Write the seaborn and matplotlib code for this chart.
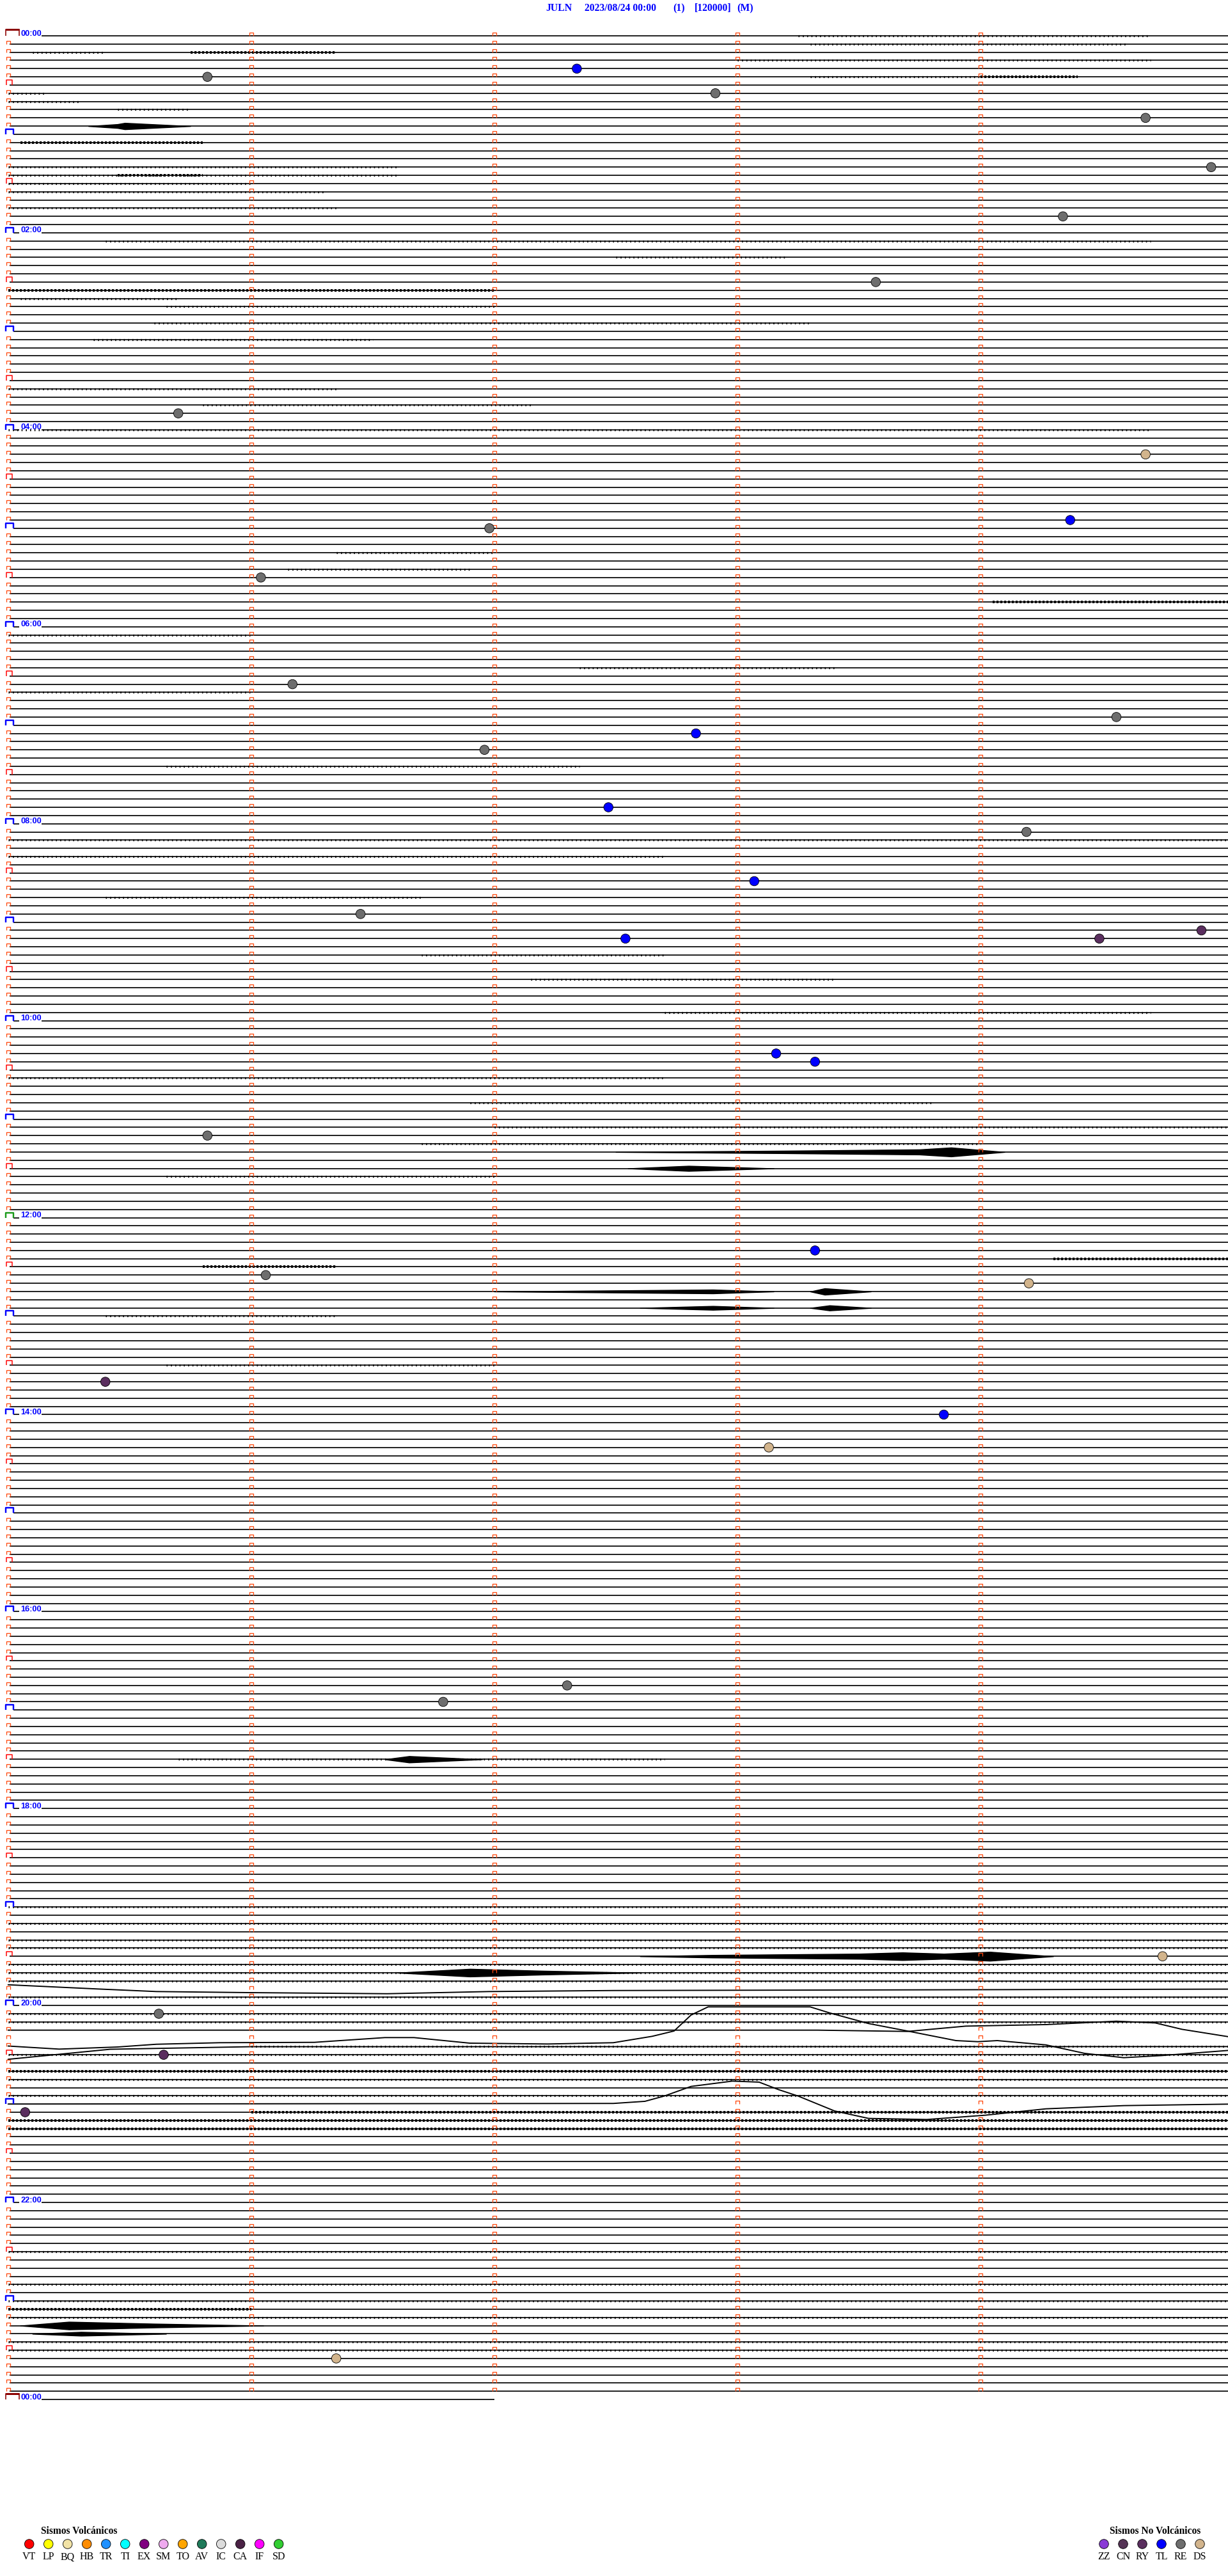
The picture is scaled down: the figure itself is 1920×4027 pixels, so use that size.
import numpy as np
import pandas as pd
import matplotlib
matplotlib.use("Agg")
import matplotlib.pyplot as plt
import seaborn as sns
from matplotlib.collections import LineCollection

# --- drum layout (5 min per row, 12 rows per hour) ---
W, H, DPI = 1920, 4027, 100
PX_MIN = 380.0      # px per minute along a row
PX_ROW = 12.83      # px between rows
X0_PX, Y0_PX = 12.7, 56.0
N_ROWS = 289
LAST_ROW_END = 2.0  # minutes drawn on the final (next day 00:00) row

header_bits = ["JULN", "2023/08/24 00:00", "(1)", "[120000]", "(M)"]
header_x = [853, 914, 1052, 1086, 1152]

hour_label_rows = [0, 24, 48, 72, 96, 120, 144, 168, 192, 216, 240, 264, 288]
hour_labels = ["00:00", "02:00", "04:00", "06:00", "08:00", "10:00", "12:00",
               "14:00", "16:00", "18:00", "20:00", "22:00", "00:00"]

# events: row, minute in row, type
ev_row = [5, 4, 7, 10, 16, 22, 30, 46, 51, 59, 60, 66, 79, 83, 85, 87, 94, 97,
          103, 107, 110, 110, 109, 124, 125, 134, 148, 151, 152, 164, 168, 172,
          201, 203, 234, 241, 246, 253, 283]
ev_min = [0.82, 2.34, 2.91, 4.68, 4.95, 4.34, 3.57, 0.70, 4.68, 4.37, 1.98, 1.04,
          1.17, 4.56, 2.83, 1.96, 2.47, 4.19, 3.07, 1.45, 2.54, 4.49, 4.91, 3.16,
          3.32, 0.82, 3.32, 1.06, 4.20, 0.40, 3.85, 3.13, 2.30, 1.79, 4.75, 0.62,
          0.64, 0.07, 1.35]
ev_type = ["RE", "TL", "RE", "RE", "RE", "RE", "RE", "RE", "DS", "TL", "RE", "RE",
           "RE", "RE", "TL", "RE", "TL", "RE", "TL", "RE", "TL", "RY", "RY", "TL",
           "TL", "RE", "TL", "RE", "DS", "RY", "TL", "DS", "RE", "RE", "DS", "RE",
           "RY", "RY", "DS"]

# legend
volc_codes = ["VT", "LP", "BQ", "HB", "TR", "TI", "EX", "SM", "TO", "AV", "IC", "CA", "IF", "SD"]
volc_colors = ["#ff0000", "#ffff00", "#f2e3a6", "#ff8c00", "#1e90ff", "#00ffff", "#800080",
               "#eeaaee", "#ffa500", "#1f7a5a", "#dcdcdc", "#4a2245", "#ff00ff", "#32cd32"]
nonv_codes = ["ZZ", "CN", "RY", "TL", "RE", "DS"]
nonv_colors = ["#8a3ad6", "#553355", "#5a2e5e", "#0000ff", "#6e6e6e", "#d2b48c"]

# noisy stretches: row, start min, end min, weight (1 light, 2 dense)
noise_row = [0, 1, 2, 2, 3, 5, 5, 7, 8, 9, 13, 16, 17, 17, 18, 19, 21, 25, 27, 31, 32,
             33, 35, 37, 43, 45, 48, 63, 65, 69, 73, 77, 80, 89, 98, 100, 105, 112,
             115, 119, 127, 130, 133, 135, 139, 149, 150, 156, 162, 210, 228, 230,
             232, 233, 235, 236, 237, 239, 241, 242, 245, 246, 248, 249, 251, 253,
             254, 255, 270, 274, 276, 277, 278, 281, 282]
noise_x0 = [3.25, 3.3, 0.1, 0.75, 3.0, 3.3, 4.0, 0.0, 0.0, 0.45, 0.05, 0.0, 0.0, 0.45, 0.0,
            0.0, 0.0, 0.4, 2.5, 0.0, 0.05, 0.65, 0.6, 0.35, 0.0, 0.8, 0.0, 1.35, 1.15, 4.05,
            0.0, 2.35, 0.0, 0.65, 0.0, 0.0, 0.4, 1.7, 2.15, 2.7, 0.0, 1.9, 2.0, 1.7, 0.65,
            4.3, 0.8, 0.4, 0.65, 0.7, 0.0, 0.0, 0.0, 0.0, 0.0, 0.0, 0.0, 0.0, 0.0, 0.0, 1.0,
            0.0, 0.0, 0.0, 0.0, 1.0, 0.0, 0.0, 0.0, 0.0, 0.0, 0.0, 0.0, 0.0, 0.0]
noise_x1 = [4.7, 4.6, 0.4, 1.35, 4.7, 4.0, 4.4, 0.15, 0.3, 0.75, 0.8, 1.6, 1.6, 0.8, 1.0,
            1.3, 1.35, 4.7, 3.2, 2.0, 0.7, 2.0, 3.3, 1.5, 1.35, 2.15, 4.7, 2.0, 1.9, 5.05,
            1.0, 3.4, 1.0, 2.35, 5.05, 2.7, 1.7, 2.7, 3.4, 4.7, 2.7, 3.8, 5.05, 4.0, 2.0,
            5.05, 1.35, 1.35, 2.0, 2.7, 5.05, 5.05, 5.05, 5.05, 5.05, 5.05, 5.05, 5.05,
            5.05, 5.05, 5.05, 5.05, 5.05, 5.05, 5.05, 5.05, 5.05, 5.05, 5.05, 5.05, 5.05,
            1.0, 5.05, 5.05, 5.05]
noise_w = [1, 1, 1, 2, 1, 1, 2, 1, 1, 1, 2, 1, 1, 2, 1, 1, 1, 1, 1, 2, 1, 1, 1, 1, 1, 1,
           1, 1, 1, 2, 1, 1, 1, 1, 1, 1, 1, 1, 1, 1, 1, 1, 1, 1, 1, 2, 2, 1, 1, 1, 1, 1, 1,
           1, 1, 1, 1, 1, 1, 1, 1, 1, 2, 1, 1, 2, 2, 2, 1, 1, 1, 2, 1, 1, 1]

# bursts: row, knot minutes, half-amplitude in px
burst_row = [11, 136, 138, 153, 153, 155, 155, 210, 234, 236, 279, 280]
burst_x = [[0.33, 0.45, 0.48, 0.75],
           [2.5, 3.2, 3.75, 3.88, 4.1],
           [2.55, 2.8, 3.15],
           [2.0, 2.9, 3.15],
           [3.3, 3.36, 3.55],
           [2.6, 2.9, 3.15],
           [3.3, 3.38, 3.55],
           [1.55, 1.65, 1.95],
           [2.6, 2.9, 3.5, 3.68, 3.85, 4.04, 4.3],
           [1.6, 1.9, 2.2, 2.6],
           [0.05, 0.25, 0.6, 1.05],
           [0.1, 0.3, 0.65]]
burst_amp = [[0, 3, 5, 0], [0, 2, 4, 7, 0], [0, 4, 0], [0, 3, 0], [0, 5, 0], [0, 3, 0],
             [0, 4, 0], [0, 5, 0], [0, 2, 4, 6, 4, 7, 0], [0, 6, 3, 0], [0, 6, 3, 0],
             [0, 3, 0]]

# long-period drift on a few traces: row, knot minutes, offset px (down +)
drift_row = [238, 243, 244, 245, 252]
drift_x = [[0.0, 0.37, 0.61, 1.0, 1.56, 1.98, 2.49, 5.05],
           [0.0, 3.33, 3.70, 3.94, 4.27, 4.56, 4.72, 4.83, 5.05],
           [0.0, 0.21, 0.45, 0.61, 0.87, 1.26, 1.55, 1.67, 1.90, 2.22, 2.49, 2.65, 2.74,
            2.81, 2.88, 3.30, 3.38, 3.54, 3.70, 3.90, 3.99, 4.07, 4.27, 4.43, 4.59, 4.75,
            5.05],
           [0.0, 0.42, 1.0, 5.05],
           [0.0, 2.49, 2.62, 2.70, 2.81, 2.98, 3.09, 3.17, 3.25, 3.40, 3.54, 3.78, 4.02,
            4.27, 4.59, 5.05]]
drift_off = [[-6.8, -0.2, 3.8, 5.5, 7.2, 3.8, 2.2, 0.0],
             [0.0, 0.0, 2.0, -6.3, -8.7, -14.0, -11.3, -1.3, 12.0],
             [12.0, 16.8, 13.5, 9.2, 6.8, 6.2, -1.2, -1.2, 7.5, 8.8, 6.8, -3.2, -11.5,
              -36.5, -49.2, -49.2, -39.8, -23.2, -11.5, 3.5, 5.2, 3.5, 10.2, 23.5, 30.2,
              26.8, 18.0],
           [19.9, 4.2, 0.2, 0.0],
           [0.0, -0.9, -4.2, -12.5, -27.5, -35.8, -34.2, -22.5, -12.5, 10.8, 22.5, 24.2,
            17.5, 7.5, 2.5, 0.0]]

sns.set_theme(style="white")
plt.rcParams['font.family'] = ['Liberation Serif', 'DejaVu Serif']


def px2pt(p):
    return p * 72.0 / DPI


fig = plt.figure(figsize=(W / DPI, H / DPI), dpi=DPI)
fig.patch.set_facecolor("white")
ax = fig.add_axes([0, 0, 1, 1])

dx = lambda p: p / PX_MIN
dy = lambda p: p / PX_ROW

# base traces
segs = []
for r in range(N_ROWS):
    if r in drift_row:
        continue
    end = LAST_ROW_END if r == N_ROWS - 1 else 5.05
    if r in hour_label_rows:
        if r != 0 and r != N_ROWS - 1:
            segs.append([(dx(8), r), (dx(17.3), r)])
        segs.append([(dx(52.3), r), (end, r)])
    elif r % 12 == 0:
        segs.append([(dx(8), r), (end, r)])
    else:
        segs.append([(dx(2.3), r), (end, r)])
ax.add_collection(LineCollection(segs, colors="black", linewidths=px2pt(1.7), zorder=2))

for r, xs, offs in zip(drift_row, drift_x, drift_off):
    ax.plot(xs, [r + dy(o) for o in offs], color="black", lw=px2pt(1.9), zorder=2)

# noisy stretches, drawn as broken tick runs
for wt, lw, dash in [(1, 3.2, (0, (0.5, 1.6))), (2, 4.0, (0, (0.8, 0.7)))]:
    nsegs = [[(a, r), (b, r)] for r, a, b, w in zip(noise_row, noise_x0, noise_x1, noise_w) if w == wt]
    ax.add_collection(LineCollection(nsegs, colors="black", linewidths=px2pt(lw),
                                     linestyles=[dash], capstyle="butt", zorder=2))

for r, xs, amps in zip(burst_row, burst_x, burst_amp):
    lo = [r - dy(a) for a in amps]
    hi = [r + dy(a) for a in amps]
    ax.fill_between(xs, lo, hi, color="black", lw=1.0, zorder=3)


# minute ticks (open boxes sitting on each trace)
def box(x_left, w, h, r):
    return [(x_left, r), (x_left, r - dy(h)), (x_left + dx(w), r - dy(h)), (x_left + dx(w), r)]


small, red, blue = [], [], []
for r in range(N_ROWS - 1):
    for k in range(1, 5):
        small.append(box(k + dx(-2.7), 5.5, 5, r))
    if r % 12 == 0:
        if r != 0:
            blue.append((r, box(dx(-3.4), 11.4, 8, r)))
    elif r % 12 == 6:
        red.append(box(dx(-2.7), 8.5, 7.5, r))
    else:
        small.append(box(dx(-2.7), 5.5, 5, r))
ax.add_collection(LineCollection(small, colors="#ff4a10", linewidths=px2pt(1.3), zorder=4))
ax.add_collection(LineCollection(red, colors="#ff0000", linewidths=px2pt(1.5), zorder=4))
ax.add_collection(LineCollection([b for _, b in blue],
                                 colors=["#1a9a1a" if r == 144 else "#0000ff" for r, _ in blue],
                                 linewidths=px2pt(2.4), zorder=4))
# day boxes
for r in (0, N_ROWS - 1):
    ax.add_collection(LineCollection([box(dx(-3.4), 20.7, 9.5, r)], colors="#8b0000",
                                     linewidths=px2pt(1.6), zorder=4))
    ax.plot([dx(-3.4), dx(17.3)], [r - dy(9.5), r - dy(9.5)], color="#8b0000",
            lw=px2pt(3), zorder=4, solid_capstyle="butt")

for r, lab in zip(hour_label_rows, hour_labels):
    ax.text(dx(19.3), r - dy(0.5), lab, color="#0000ff", fontsize=9.2, fontweight="bold",
            family=["Liberation Sans", "DejaVu Sans"], ha="left", va="baseline", zorder=5)

# events
ev = pd.DataFrame({"row": ev_row, "minute": ev_min, "type": ev_type})
palette = dict(zip(volc_codes + nonv_codes, volc_colors + nonv_colors))
sns.scatterplot(data=ev, x="minute", y="row", hue="type", palette=palette, s=110,
                edgecolor="black", linewidth=0.6, legend=False, ax=ax, zorder=6)
ax.set_xlim(-X0_PX / PX_MIN, (W - X0_PX) / PX_MIN)
ax.set_ylim((H - Y0_PX) / PX_ROW, -Y0_PX / PX_ROW)
ax.axis("off")

# header
for s, x in zip(header_bits, header_x):
    fig.text(x / W, 1 - 13 / H, s, color="#0000ff", fontsize=11.3, fontweight="bold",
             ha="left", va="center")


# legends
def legend_block(codes, colors, x_first, title, title_cx):
    n = len(codes)
    left = x_first - 15
    lax = fig.add_axes([left / W, 1 - 4012 / H, 30 * n / W, 67 / H])
    df = pd.DataFrame({"i": range(n), "y": [32] * n, "code": codes})
    sns.scatterplot(data=df, x="i", y="y", hue="code", palette=dict(zip(codes, colors)),
                    s=110, edgecolor="black", linewidth=0.6, legend=False, ax=lax)
    lax.set_xlim(-0.5, n - 0.5)
    lax.set_ylim(67, 0)
    lax.axis("off")
    for i, c in enumerate(codes):
        lax.text(i, 52, c, ha="center", va="center", fontsize=11.5, color="black")
    fig.text(title_cx / W, 1 - 3957 / H, title, ha="center", va="center",
             fontsize=11.2, fontweight="bold", color="black")


legend_block(volc_codes, volc_colors, 45.7, "Sismos Volcánicos", 124)
legend_block(nonv_codes, nonv_colors, 1726, "Sismos No Volcánicos", 1806)

fig.savefig("out.png", dpi=DPI, facecolor="white")
